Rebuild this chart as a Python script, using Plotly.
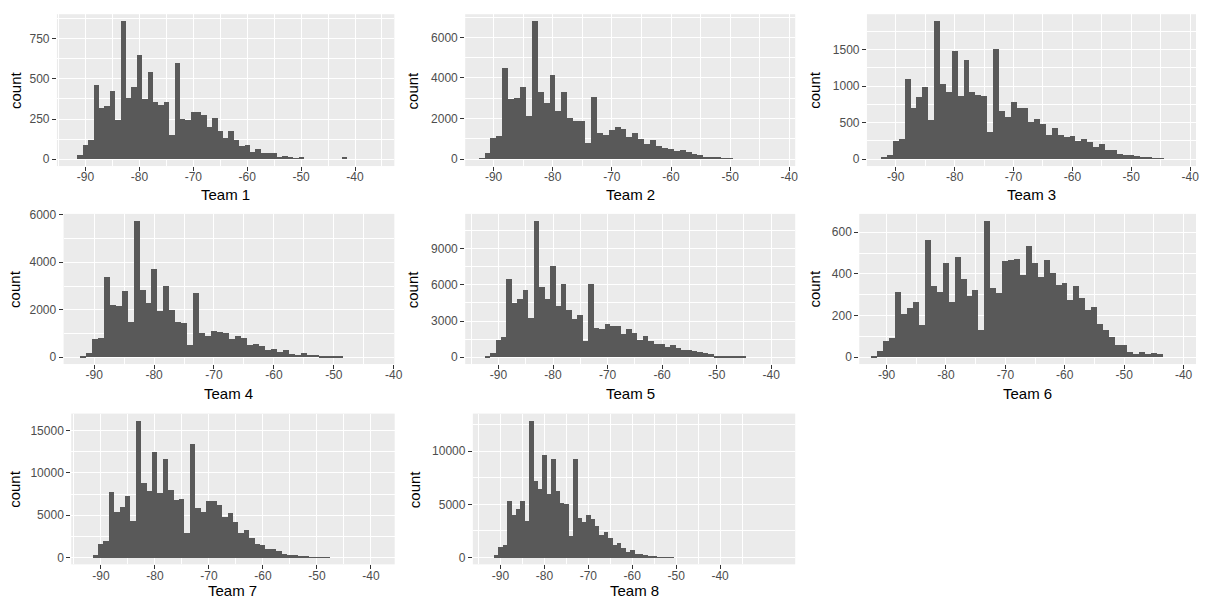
import numpy as np
import plotly.graph_objects as go

W, H = 1209, 600

# Histogram counts per team, 1 dB wide bins; *_start is the centre of the first bin (dBm)
team1_start = -91
team1_counts = [25, 90, 120, 460, 315, 330, 425, 240, 860, 380, 450, 650, 375, 540,
                355, 335, 355, 150, 600, 250, 240, 290, 290, 275, 200, 255, 175, 130,
                175, 120, 80, 85, 45, 65, 40, 40, 35, 15, 20, 12, 5, 12,
                0, 0, 0, 0, 0, 0, 0, 8]

team2_start = -92
team2_counts = [30, 300, 1050, 1150, 4500, 2950, 3000, 3550, 2100, 6800, 3300, 2750,
                4150, 2350, 3300, 2000, 1850, 1850, 780, 3050, 1300, 1200, 1450, 1550,
                1500, 1100, 1300, 1000, 750, 950, 620, 520, 480, 380, 420, 320, 230,
                200, 100, 100, 50, 40, 30]

team3_start = -92
team3_counts = [15, 60, 250, 280, 1100, 700, 850, 980, 540, 1890, 1030, 920, 1480, 860,
                1360, 920, 880, 860, 370, 1500, 660, 580, 780, 700, 700, 500, 550, 480,
                330, 430, 330, 300, 310, 240, 270, 230, 170, 210, 120, 120, 70, 50, 60,
                40, 25, 25, 10, 10]

team4_start = -92
team4_counts = [40, 200, 780, 820, 3380, 2220, 2180, 2800, 1480, 5750, 2850, 2300, 3720,
                1950, 3020, 2000, 1480, 1430, 520, 2700, 1030, 900, 1130, 1080, 1030, 760,
                900, 810, 510, 560, 460, 330, 340, 230, 290, 150, 100, 200, 110, 110, 60,
                40, 30, 30]

team5_start = -92
team5_counts = [60, 350, 1450, 1700, 6500, 4500, 4850, 5600, 3250, 11300, 5850, 4800,
                7600, 4250, 6050, 3950, 3150, 3500, 1350, 6050, 2400, 2350, 2750, 2600,
                2600, 1950, 2350, 2050, 1450, 1800, 1350, 1100, 1100, 850, 1000, 750, 600,
                600, 500, 480, 320, 240, 150, 120, 60, 60, 50, 40]

team6_start = -92
team6_counts = [5, 30, 80, 95, 315, 210, 235, 265, 155, 565, 340, 315, 455, 265, 480, 375,
                295, 325, 130, 655, 335, 310, 460, 465, 470, 395, 535, 455, 385, 465, 405,
                345, 355, 275, 340, 285, 225, 240, 160, 130, 100, 60, 60, 25, 15, 25, 15,
                20, 15]

team7_start = -91
team7_counts = [350, 1700, 1950, 7800, 5400, 6000, 7300, 4400, 16200, 8800, 7900, 12500,
                7700, 11700, 8000, 6900, 7000, 2900, 13500, 5900, 5400, 6700, 6700, 6300,
                4800, 5300, 4300, 2900, 3300, 2300, 1700, 1550, 1100, 1100, 850, 500, 400,
                300, 250, 150, 100, 100, 80, 60]

team8_start = -91
team8_counts = [250, 1050, 1250, 5400, 4000, 4600, 5400, 3500, 12900, 7200, 6500, 9700,
                6000, 9300, 6300, 5200, 5100, 2100, 9300, 3800, 3400, 4000, 3700, 3000,
                2200, 2400, 1900, 1200, 1400, 900, 600, 700, 400, 350, 250, 200, 150, 80,
                60, 50, 40]

team_names = ["Team 1", "Team 2", "Team 3", "Team 4", "Team 5", "Team 6", "Team 7", "Team 8"]
bin_starts = [team1_start, team2_start, team3_start, team4_start,
              team5_start, team6_start, team7_start, team8_start]
bin_counts = [team1_counts, team2_counts, team3_counts, team4_counts,
              team5_counts, team6_counts, team7_counts, team8_counts]

x_breaks = [-90, -80, -70, -60, -50, -40]
x_minor = [-95, -85, -75, -65, -55, -45, -35]
y_breaks = [
    [0, 250, 500, 750],
    [0, 2000, 4000, 6000],
    [0, 500, 1000, 1500],
    [0, 2000, 4000, 6000],
    [0, 3000, 6000, 9000],
    [0, 200, 400, 600],
    [0, 5000, 10000, 15000],
    [0, 5000, 10000],
]

# panel x-axis extents (data units)
x_ranges = [
    [-95.3, -32.7], [-94.8, -39.0], [-94.9, -39.0], [-95.1, -39.9],
    [-96.1, -35.6], [-94.6, -37.9], [-95.5, -35.6], [-96.3, -22.9],
]

# panel boxes in pixels: left, right, top, bottom
boxes = [
    (57.3, 397, 8.3, 161.7), (468.3, 800.5, 8.3, 161.7), (872.7, 1204, 8.3, 161.7),
    (64, 397, 210, 361.7), (468.3, 800.5, 210, 361.7), (865, 1204, 210, 361.7),
    (71.7, 397.3, 411.7, 564), (476, 800.5, 411.7, 564),
]
ylab_x = [15, 415, 820, 15, 416, 820, 15, 418]
# vertical centre of each x-axis title, px below the panel
xlab_gap = [29.0, 29.0, 29.0, 29.5, 29.5, 29.5, 26.5, 26.5]

BAR = "#595959"
PANEL = "#EBEBEB"
TICK_TXT = "#4D4D4D"
FONT = "Liberation Sans, Arial, sans-serif"

fig = go.Figure()
layout = dict(
    width=W, height=H,
    margin=dict(l=0, r=0, t=0, b=0),
    paper_bgcolor="white", plot_bgcolor=PANEL,
    showlegend=False, bargap=0,
    font=dict(family=FONT),
)
annotations = []


def minor_breaks(br, top):
    step = br[1] - br[0]
    vals = [b + step / 2 for b in br]
    return [v for v in vals if v <= top]


for i, (name, start, cnt) in enumerate(zip(team_names, bin_starts, bin_counts)):
    n = i + 1
    sfx = "" if n == 1 else str(n)
    centres = start + np.arange(len(cnt))
    fig.add_trace(go.Bar(
        x=centres, y=cnt, width=1.0,
        marker=dict(color=BAR, line=dict(width=0)),
        xaxis="x" + sfx, yaxis="y" + sfx, hoverinfo="skip",
    ))
    ymax = max(cnt)
    yr = [-0.05 * ymax, 1.05 * ymax]
    l, r, t, b = boxes[i]
    common = dict(
        ticks="outside", ticklen=4, tickwidth=1, tickcolor="#333333",
        tickfont=dict(size=12, color=TICK_TXT, family=FONT),
        showgrid=True, gridcolor="white", gridwidth=1.1,
        zeroline=False, showline=False, fixedrange=True,
    )
    layout["xaxis" + sfx] = dict(
        common, domain=[l / W, r / W], range=x_ranges[i], anchor="y" + sfx,
        tickmode="array", tickvals=x_breaks, ticktext=[str(v) for v in x_breaks],
        ticklabelstandoff=-4,
        minor=dict(tickmode="array", tickvals=x_minor, showgrid=True,
                   gridcolor="white", gridwidth=0.55, ticks=""),
    )
    yb = y_breaks[i]
    layout["yaxis" + sfx] = dict(
        common, domain=[1 - b / H, 1 - t / H], range=yr, anchor="x" + sfx,
        tickmode="array", tickvals=yb, ticktext=[str(v) for v in yb],
        minor=dict(tickmode="array", tickvals=minor_breaks(yb, yr[1]), showgrid=True,
                   gridcolor="white", gridwidth=0.55, ticks=""),
    )
    annotations.append(dict(
        text=name, xref="paper", yref="paper",
        x=(l + r) / 2 / W, y=1 - (b + xlab_gap[i]) / H,
        xanchor="center", yanchor="middle", showarrow=False,
        font=dict(size=15, color="black", family=FONT),
    ))
    annotations.append(dict(
        text="count", xref="paper", yref="paper",
        x=ylab_x[i] / W, y=1 - (t + b) / 2 / H, textangle=-90,
        xanchor="center", yanchor="middle", showarrow=False,
        font=dict(size=15, color="black", family=FONT),
    ))

layout["annotations"] = annotations
fig.update_layout(**layout)
fig.write_html("out.html")
